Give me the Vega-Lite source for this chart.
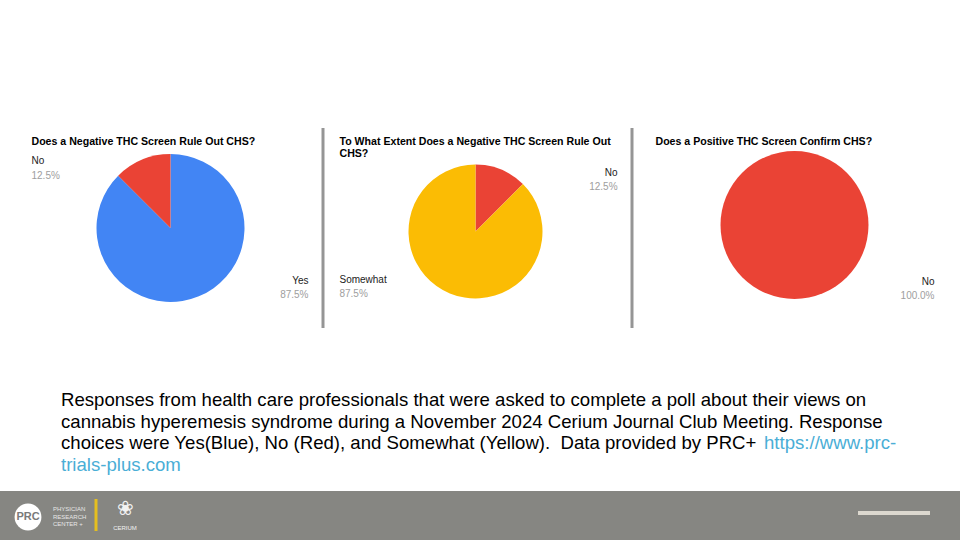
{
  "$schema": "https://vega.github.io/schema/vega-lite/v6.json",
  "background": "#ffffff",
  "padding": {"top": 128, "left": 0, "right": 0, "bottom": 0},
  "config": {
    "view": {"stroke": null},
    "font": "Liberation Sans",
    "title": {"font": "Liberation Sans"},
    "text": {"font": "Liberation Sans"}
  },
  "datasets": {
    "poll": [
      {"chart": "Q1", "answer": "Yes", "share": 0.875, "idx": 1},
      {"chart": "Q1", "answer": "No", "share": 0.125, "idx": 2},
      {"chart": "Q2", "answer": "No", "share": 0.125, "idx": 1},
      {"chart": "Q2", "answer": "Somewhat", "share": 0.875, "idx": 2},
      {"chart": "Q3", "answer": "No", "share": 1.0, "idx": 1}
    ],
    "caption": [
      {"line": 1, "kind": "body", "text": "Responses from health care professionals that were asked to complete a poll about their views on"},
      {"line": 2, "kind": "body", "text": "cannabis hyperemesis syndrome during a November 2024 Cerium Journal Club Meeting. Response"},
      {"line": 3, "kind": "body", "text": "choices were Yes(Blue), No (Red), and Somewhat (Yellow).\u00a0 Data provided by PRC+"},
      {"line": 3, "kind": "link", "text": "https://www.prc-"},
      {"line": 4, "kind": "link", "text": "trials-plus.com"}
    ]
  },
  "vconcat": [
    {
      "hconcat": [
        {"width": 2, "height": 10, "data": {"values": []}, "mark": "point"},
        {
          "vconcat": [
            {"width": 278, "height": 9, "data": {"values": []}, "mark": "point",
             "title": {"text": "Does a Negative THC Screen Rule Out CHS?", "orient": "bottom", "anchor": "start", "baseline": "top", "offset": 0, "fontSize": 10.6, "fontWeight": "bold", "color": "#000000"}},
            {
              "width": 278, "height": 154,
              "data": {"name": "poll"},
              "transform": [{"filter": "datum.chart === 'Q1'"}],
              "encoding": {
                "theta": {"field": "share", "type": "quantitative", "stack": true},
                "order": {"field": "idx", "type": "quantitative"}
              },
              "layer": [
                {"mark": {"type": "arc", "radius": 74}, "encoding": {"color": {"field": "answer", "type": "nominal", "scale": {"domain": ["Yes", "No", "Somewhat"], "range": ["#4285f4", "#ea4335", "#fbbc04"]}, "legend": null}}},
                {"mark": {"type": "text", "radius": 74, "align": "left", "baseline": "alphabetic", "dx": -110.7, "dy": 4.4, "fontSize": 10, "color": "#222222"}, "encoding": {"text": {"condition": {"test": "datum.answer === 'No'", "field": "answer", "type": "nominal"}, "value": ""}}},
                {"mark": {"type": "text", "radius": 74, "align": "left", "baseline": "alphabetic", "dx": -110.7, "dy": 19.4, "fontSize": 10, "color": "#9e9e9e"}, "encoding": {"text": {"condition": {"test": "datum.answer === 'No'", "field": "share", "type": "quantitative", "format": ".1%"}, "value": ""}}},
                {"mark": {"type": "text", "radius": 74, "align": "right", "baseline": "alphabetic", "dx": 109.7, "dy": -11.9, "fontSize": 10, "color": "#222222"}, "encoding": {"text": {"condition": {"test": "datum.answer === 'Yes'", "field": "answer", "type": "nominal"}, "value": ""}}},
                {"mark": {"type": "text", "radius": 74, "align": "right", "baseline": "alphabetic", "dx": 109.7, "dy": 2.1, "fontSize": 10, "color": "#9e9e9e"}, "encoding": {"text": {"condition": {"test": "datum.answer === 'Yes'", "field": "share", "type": "quantitative", "format": ".1%"}, "value": ""}}}
              ]
            }
          ],
          "spacing": -9
        },
        {"width": 3, "height": 200, "data": {"values": []}, "mark": "point", "view": {"fill": "#959595", "stroke": null}},
        {
          "vconcat": [
            {"width": 278, "height": 9, "data": {"values": []}, "mark": "point",
             "title": {"text": ["To What Extent Does a Negative THC Screen Rule Out", "CHS?"], "lineHeight": 12.3, "orient": "bottom", "anchor": "start", "baseline": "top", "offset": 0, "dx": 3, "fontSize": 10.6, "fontWeight": "bold", "color": "#000000"}},
            {
              "width": 278, "height": 143,
              "data": {"name": "poll"},
              "transform": [{"filter": "datum.chart === 'Q2'"}],
              "encoding": {
                "theta": {"field": "share", "type": "quantitative", "stack": true},
                "order": {"field": "idx", "type": "quantitative"}
              },
              "layer": [
                {"mark": {"type": "arc", "radius": 67}, "encoding": {"color": {"field": "answer", "type": "nominal", "scale": {"domain": ["Yes", "No", "Somewhat"], "range": ["#4285f4", "#ea4335", "#fbbc04"]}, "legend": null}}},
                {"mark": {"type": "text", "radius": 67, "align": "right", "baseline": "alphabetic", "dx": 116.4, "dy": 5.9, "fontSize": 10, "color": "#222222"}, "encoding": {"text": {"condition": {"test": "datum.answer === 'No'", "field": "answer", "type": "nominal"}, "value": ""}}},
                {"mark": {"type": "text", "radius": 67, "align": "right", "baseline": "alphabetic", "dx": 116.4, "dy": 19.9, "fontSize": 10, "color": "#9e9e9e"}, "encoding": {"text": {"condition": {"test": "datum.answer === 'No'", "field": "share", "type": "quantitative", "format": ".1%"}, "value": ""}}},
                {"mark": {"type": "text", "radius": 67, "align": "left", "baseline": "alphabetic", "dx": -110.4, "dy": -9.9, "fontSize": 10, "color": "#222222"}, "encoding": {"text": {"condition": {"test": "datum.answer === 'Somewhat'", "field": "answer", "type": "nominal"}, "value": ""}}},
                {"mark": {"type": "text", "radius": 67, "align": "left", "baseline": "alphabetic", "dx": -110.4, "dy": 4.1, "fontSize": 10, "color": "#9e9e9e"}, "encoding": {"text": {"condition": {"test": "datum.answer === 'Somewhat'", "field": "share", "type": "quantitative", "format": ".1%"}, "value": ""}}}
              ]
            }
          ],
          "spacing": -9
        },
        {"width": 3, "height": 200, "data": {"values": []}, "mark": "point", "view": {"fill": "#959595", "stroke": null}},
        {
          "vconcat": [
            {"width": 298, "height": 9, "data": {"values": []}, "mark": "point",
             "title": {"text": "Does a Positive THC Screen Confirm CHS?", "orient": "bottom", "anchor": "start", "baseline": "top", "offset": 0, "dx": 10, "fontSize": 10.6, "fontWeight": "bold", "color": "#000000"}},
            {
              "width": 298, "height": 154,
              "data": {"name": "poll"},
              "transform": [{"filter": "datum.chart === 'Q3'"}],
              "encoding": {
                "theta": {"field": "share", "type": "quantitative", "stack": true},
                "order": {"field": "idx", "type": "quantitative"}
              },
              "layer": [
                {"mark": {"type": "arc", "radius": 74}, "encoding": {"color": {"field": "answer", "type": "nominal", "scale": {"domain": ["Yes", "No", "Somewhat"], "range": ["#4285f4", "#ea4335", "#fbbc04"]}, "legend": null}}},
                {"mark": {"type": "text", "radius": 74, "align": "right", "baseline": "alphabetic", "dx": 140, "dy": -14.5, "fontSize": 10, "color": "#222222"}, "encoding": {"text": {"field": "answer", "type": "nominal"}}},
                {"mark": {"type": "text", "radius": 74, "align": "right", "baseline": "alphabetic", "dx": 140, "dy": -0.5, "fontSize": 10, "color": "#9e9e9e"}, "encoding": {"text": {"field": "share", "type": "quantitative", "format": ".1%"}}}
              ]
            }
          ],
          "spacing": -9
        }
      ],
      "spacing": 12
    },
    {
      "width": 838, "height": 139,
      "data": {"name": "caption"},
      "encoding": {
        "y": {"field": "line", "type": "ordinal", "scale": {"type": "point", "domain": [1, 2, 3, 4], "range": [66, 130.5], "padding": 0}, "axis": null}
      },
      "layer": [
        {"transform": [{"filter": "datum.kind === 'body'"}], "mark": {"type": "text", "align": "left", "baseline": "alphabetic", "fontSize": 18.6, "color": "#000000"}, "encoding": {"x": {"value": 0}, "text": {"field": "text"}}},
        {"transform": [{"filter": "datum.kind === 'link' && datum.line === 3"}], "mark": {"type": "text", "align": "left", "baseline": "alphabetic", "fontSize": 18.6, "color": "#4aaed6", "dx": 703}, "encoding": {"x": {"value": 0}, "text": {"field": "text"}}},
        {"transform": [{"filter": "datum.kind === 'link' && datum.line === 4"}], "mark": {"type": "text", "align": "left", "baseline": "alphabetic", "fontSize": 18.6, "color": "#4aaed6"}, "encoding": {"x": {"value": 0}, "text": {"field": "text"}}}
      ]
    },
    {
      "width": 960, "height": 49,
      "view": {"fill": "#868682", "stroke": null},
      "layer": [
        {"data": {"values": [{"label": "PRC"}]}, "mark": {"type": "point", "shape": "circle", "filled": true, "size": 720, "color": "#ffffff", "opacity": 1},
         "encoding": {"x": {"datum": 28, "type": "quantitative", "scale": {"domain": [0, 960], "nice": false, "zero": false}, "axis": null}, "y": {"datum": 26, "type": "quantitative", "scale": {"domain": [0, 49], "nice": false, "zero": false, "reverse": true}, "axis": null}}},
        {"data": {"values": [{"label": "PRC"}]}, "mark": {"type": "text", "fontSize": 11, "fontWeight": "bold", "color": "#7a7a7a", "baseline": "middle"},
         "encoding": {"x": {"datum": 28, "type": "quantitative"}, "y": {"datum": 26, "type": "quantitative"}, "text": {"field": "label"}}},
        {"data": {"values": [{"label": ["PHYSICIAN", "RESEARCH", "CENTER +"]}]}, "mark": {"type": "text", "fontSize": 6, "lineHeight": 7.5, "color": "#e6e6e6", "align": "left", "baseline": "middle"},
         "encoding": {"x": {"datum": 53, "type": "quantitative"}, "y": {"datum": 18, "type": "quantitative"}, "text": {"field": "label"}}},
        {"data": {"values": [{"label": "divider"}]}, "mark": {"type": "rule", "strokeWidth": 3, "color": "#e5bf1f"},
         "encoding": {"x": {"datum": 96, "type": "quantitative"}, "y": {"datum": 8, "type": "quantitative"}, "y2": {"datum": 40}}},
        {"data": {"values": [{"label": "❀"}]}, "mark": {"type": "text", "fontSize": 20, "color": "#f2f2f2", "baseline": "middle"},
         "encoding": {"x": {"datum": 125, "type": "quantitative"}, "y": {"datum": 18, "type": "quantitative"}, "text": {"field": "label"}}},
        {"data": {"values": [{"label": "CERIUM"}]}, "mark": {"type": "text", "fontSize": 6, "color": "#f2f2f2", "baseline": "middle"},
         "encoding": {"x": {"datum": 125, "type": "quantitative"}, "y": {"datum": 37, "type": "quantitative"}, "text": {"field": "label"}}},
        {"data": {"values": [{"label": "bar"}]}, "mark": {"type": "rule", "strokeWidth": 4, "color": "#dcd8cf"},
         "encoding": {"x": {"datum": 858, "type": "quantitative"}, "x2": {"datum": 930}, "y": {"datum": 22, "type": "quantitative"}}}
      ]
    }
  ],
  "spacing": 12,
  "center": true
}
